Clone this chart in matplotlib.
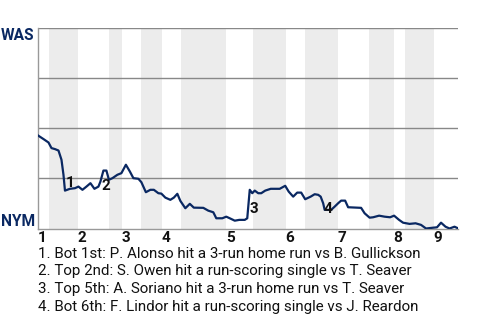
import matplotlib
matplotlib.use("Agg")
import matplotlib.pyplot as plt

plt.rcParams['font.family'] = ['Roboto', 'DejaVu Sans']

# Win probability (WAS win %) vs game progress (approx. plate appearances)
prog = [0, 1.1, 2.1, 2.7, 3.4, 4.1, 4.7, 5.1, 5.4, 6.4, 7.4, 8.1, 8.9, 9.7, 10.5,
        11.3, 12.1, 12.5, 13.1, 13.7, 14.2, 14.9, 15.9, 16.7, 17.6, 18.4, 19.1,
        20.1, 20.7, 21.6, 22.5, 23.2, 24.1, 24.7, 25.5, 26.5, 27.2, 27.9, 28.5,
        29.5, 30.4, 31.2, 33.1, 34.1, 35.1, 35.7, 36.9, 37.7, 38.4, 39.4, 40.3,
        41.4, 41.9, 42.4, 42.9, 43.4, 44.1, 44.7, 45.5, 46.6, 48.4, 49.5, 50.2,
        51.1, 51.9, 52.7, 53.5, 54.6, 55.4, 56.1, 56.6, 57.1, 57.4, 58.7, 59.4,
        60.1, 60.7, 61.5, 62.1, 64.7, 65.4, 66.4, 67.1, 68.3, 69.4, 70.5, 71.3,
        72.3, 73.1, 74.4, 75.6, 76.7, 77.7, 79.1, 79.9, 80.7, 81.6, 82.4, 83.4,
        84.1]
was_wp = [46.4, 44.6, 42.9, 40.1, 39.6, 38.9, 34.3, 26.8, 18.9, 19.8, 20.1, 20.9,
          19.3, 20.9, 22.6, 19.8, 20.9, 23.4, 28.9, 28.9, 24.3, 25.1, 26.8, 27.6,
          31.8, 28.4, 25.1, 24.8, 23.1, 18.1, 19.3, 19.3, 17.6, 17.4, 15.4, 14.3,
          15.4, 17.3, 13.8, 10.1, 12.3, 10.4, 10.3, 8.9, 8.1, 5.1, 5.1, 5.9, 5.1,
          3.9, 4.3, 4.3, 5.1, 19.3, 17.6, 18.9, 17.6, 17.6, 18.9, 19.8, 19.8, 21.3,
          18.4, 15.9, 17.9, 17.9, 14.6, 15.9, 17.1, 16.8, 15.9, 12.6, 9.3, 9.3,
          10.9, 12.6, 13.9, 13.9, 10.6, 10.3, 7.6, 5.4, 5.6, 6.4, 5.9, 5.6, 6.4,
          4.3, 2.9, 2.3, 2.6, 1.8, 0.0, 0.4, 0.6, 2.9, 0.9, 0.0, 0.9, 0.1]

# inning starts (top halves) and bottom-half spans
inning_start = [0, 8, 16.8, 24.8, 37.6, 49.6, 60, 71.2, 79.2]
inning_labels = ['1', '2', '3', '4', '5', '6', '7', '8', '9']
bottom_halves = [(2.2, 8), (14.2, 16.8), (20.6, 24.8), (28.6, 37.6),
                 (43, 49.6), (53.4, 60), (66.2, 71.2), (73.4, 79.2)]
game_end = 84.1

# key plays: marker label positions
play_ids = ['1', '2', '3', '4']
play_x = [6.4, 13.6, 43.2, 58.0]
play_y = [22.8, 21.3, 9.6, 9.6]
play_notes = [
    '1. Bot 1st: P. Alonso hit a 3-run home run vs B. Gullickson',
    '2. Top 2nd: S. Owen hit a run-scoring single vs T. Seaver',
    '3. Top 5th: A. Soriano hit a 3-run home run vs T. Seaver',
    '4. Bot 6th: F. Lindor hit a run-scoring single vs J. Reardon',
]

navy = '#0a2862'

fig = plt.figure(figsize=(4.8, 3.2), dpi=100)
ax = fig.add_axes([38 / 480, 1 - 228.5 / 320, 420 / 480, 200.5 / 320])

for a, b in bottom_halves:
    ax.axvspan(a, b, color='#ececec', lw=0, zorder=0)

for g in [25, 50, 75, 100]:
    ax.axhline(g, color='#888888', lw=1, zorder=1)

ax.plot(prog, was_wp, color=navy, lw=1.6, zorder=3)

for pid, px, py in zip(play_ids, play_x, play_y):
    ax.text(px, py, pid, ha='center', va='center', fontsize=11,
            fontweight='bold', color='#111111', zorder=4)

ax.set_xlim(0, game_end)
ax.set_ylim(0, 100)
for s in ['top', 'right']:
    ax.spines[s].set_visible(False)
for s in ['left', 'bottom']:
    ax.spines[s].set_color('#999999')
    ax.spines[s].set_linewidth(1)

ax.set_yticks([])
ax.set_xticks(inning_start)
ax.set_xticklabels(inning_labels, fontsize=11, fontweight='bold', color='#111111')
for lab in ax.get_xticklabels():
    lab.set_horizontalalignment('left')
ax.tick_params(axis='x', length=0, pad=1.5)

ax.text(-0.008, 1.0, 'WAS', transform=ax.transAxes, ha='right', va='top',
        fontsize=11.2, fontweight='bold', color=navy)
ax.text(-0.008, 0.0, 'NYM', transform=ax.transAxes, ha='right', va='bottom',
        fontsize=11.2, fontweight='bold', color=navy)

for i, note in enumerate(play_notes):
    fig.text(38 / 480, 1 - (253.5 + i * 17.7) / 320, note, ha='left', va='center',
             fontsize=10.9, color='#111111')

fig.savefig('out.png', dpi=100)
